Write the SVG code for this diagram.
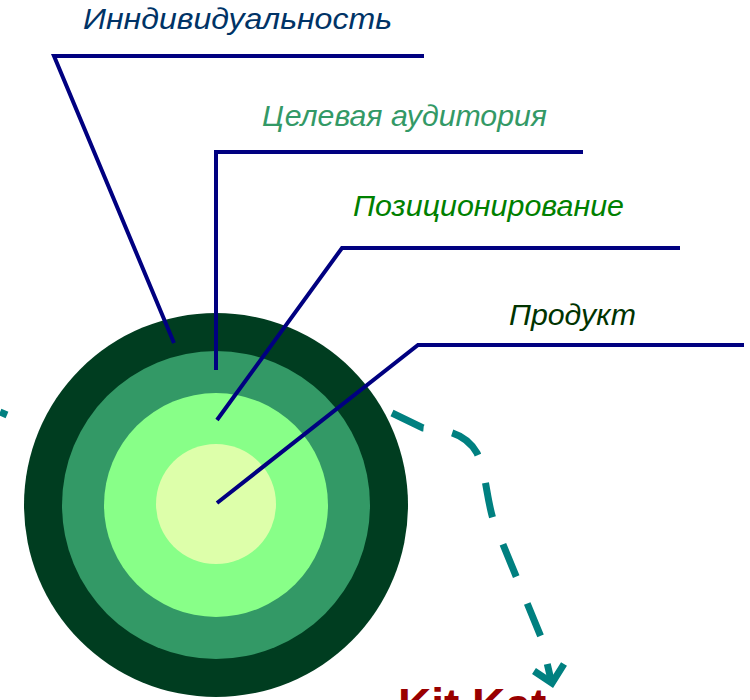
<svg xmlns="http://www.w3.org/2000/svg" width="750" height="700" viewBox="0 0 750 700">
<style>
.lbl{font-family:"Liberation Sans",Arial,sans-serif;font-style:italic;font-size:30px}
.lead{fill:none;stroke:#000080;stroke-width:4}
.flow{fill:none;stroke:#008080;stroke-width:7}
</style>
<rect width="750" height="700" fill="#ffffff"/>
<g id="rings">
<circle id="ring-outer" cx="216" cy="505" r="192" fill="#003D20"/>
<circle id="ring-2" cx="216" cy="505" r="154" fill="#339966"/>
<circle id="ring-3" cx="216" cy="505" r="112" fill="#88FF88"/>
<circle id="ring-core" cx="216" cy="504" r="60" fill="#DDFFAA"/>
</g>
<g id="labels">
<text id="t-ind" class="lbl" x="83" y="29" textLength="309" lengthAdjust="spacingAndGlyphs" fill="#003366">Инндивидуальность</text>
<text id="t-aud" class="lbl" x="262" y="126" textLength="285" lengthAdjust="spacingAndGlyphs" fill="#339966">Целевая аудитория</text>
<text id="t-pos" class="lbl" x="353" y="216" textLength="271" lengthAdjust="spacingAndGlyphs" fill="#008000">Позиционирование</text>
<text id="t-prod" class="lbl" x="509" y="325" textLength="127" lengthAdjust="spacingAndGlyphs" fill="#003300">Продукт</text>
<text id="t-kitkat" x="398" y="721" font-family="Liberation Sans, Arial, sans-serif" font-weight="bold" font-size="46" fill="#990000">Kit Kat</text>
</g>
<g id="connectors">
<polyline class="lead" points="424,56 54,56 174,343"/>
<polyline class="lead" points="583,152 216,152 216,370"/>
<polyline class="lead" points="680,248 342,248 217,420"/>
<polyline class="lead" points="744,345 418,345 217,503"/>
<path class="flow" stroke-dasharray="35 29" d="M392,413 L423,428 C445,430 465,432 477,453 C487,475 486,500 495,525 L541,637 L551,680"/>
<polyline class="flow" points="534,671 552,683 564,664" stroke-linejoin="miter"/>
<line class="flow" x1="0" y1="412" x2="7" y2="415"/>
</g>
</svg>
